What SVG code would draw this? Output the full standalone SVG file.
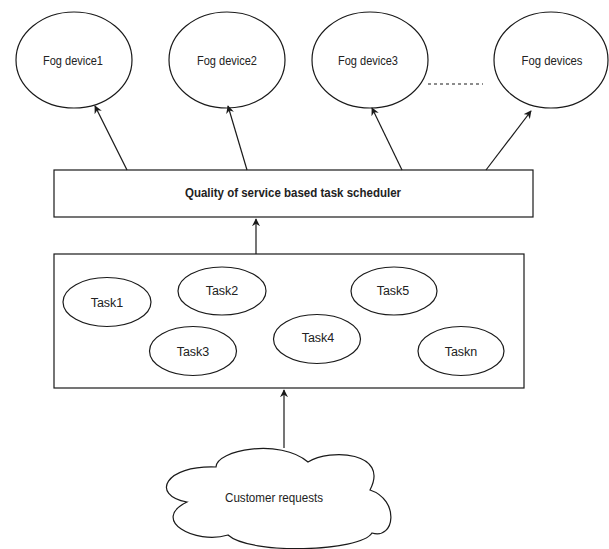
<svg xmlns="http://www.w3.org/2000/svg" width="609" height="549" viewBox="0 0 609 549">
<style>
.shape{fill:#fff;stroke:#1a1a1a;stroke-width:1.2}
.lbl{font-family:"Liberation Sans",Arial,sans-serif;font-size:12.5px;fill:#222;text-anchor:middle}
.big{font-size:13px}
.bold{font-weight:bold;font-size:12.5px}
.edge{fill:none;stroke:#1a1a1a;stroke-width:1.2}
</style>
<defs>
<marker id="arr" viewBox="0 0 10 10" refX="9" refY="5" markerWidth="8" markerHeight="8" markerUnits="userSpaceOnUse" orient="auto">
<path d="M0,0 L10,5 L0,10 L3,5 Z" fill="#1a1a1a"/>
</marker>
</defs>
<rect width="609" height="549" fill="#fff"/>
<g id="fog1"><ellipse class="shape" cx="74" cy="60" rx="58" ry="48"/><text class="lbl big" x="73" y="65" textLength="60" lengthAdjust="spacingAndGlyphs">Fog device1</text></g>
<g id="fog2"><ellipse class="shape" cx="227" cy="60" rx="58" ry="48"/><text class="lbl big" x="227" y="65" textLength="60" lengthAdjust="spacingAndGlyphs">Fog device2</text></g>
<g id="fog3"><ellipse class="shape" cx="370" cy="60" rx="58" ry="48"/><text class="lbl big" x="368" y="65" textLength="60" lengthAdjust="spacingAndGlyphs">Fog device3</text></g>
<g id="fogs"><ellipse class="shape" cx="551" cy="60" rx="57" ry="48"/><text class="lbl big" x="552" y="65" textLength="61" lengthAdjust="spacingAndGlyphs">Fog devices</text></g>
<g id="scheduler"><rect class="shape" x="54" y="170" width="479" height="47"/><text class="lbl bold" x="293" y="197" textLength="216" lengthAdjust="spacingAndGlyphs">Quality of service based task scheduler</text></g>
<g id="tasks"><rect class="shape" x="54" y="254" width="470" height="134"/></g>
<g id="task1"><ellipse class="shape" cx="107" cy="302" rx="44" ry="24.5"/><text class="lbl" x="107" y="307">Task1</text></g>
<g id="task2"><ellipse class="shape" cx="222" cy="291" rx="44" ry="24"/><text class="lbl" x="222" y="295">Task2</text></g>
<g id="task5"><ellipse class="shape" cx="394" cy="291" rx="43" ry="24"/><text class="lbl" x="393" y="295">Task5</text></g>
<g id="task3"><ellipse class="shape" cx="193" cy="351" rx="43.5" ry="24.5"/><text class="lbl" x="193" y="356">Task3</text></g>
<g id="task4"><ellipse class="shape" cx="317" cy="339" rx="43.5" ry="24.5"/><text class="lbl" x="318" y="342">Task4</text></g>
<g id="taskn"><ellipse class="shape" cx="461" cy="351" rx="43" ry="24.5"/><text class="lbl" x="461" y="356">Taskn</text></g>
<g id="customer"><path class="shape" d="M216,467 C216,450 280,438 308,462 C330,448 390,452 370,490 C400,500 395,540 372,533 C360,552 250,555 228,535 C195,545 150,520 187,502 C150,495 165,465 216,467 Z"/><text class="lbl big" x="274" y="502" textLength="98" lengthAdjust="spacingAndGlyphs">Customer requests</text></g>
<g id="connectors">
<path class="edge" d="M127,170 L95,106" marker-end="url(#arr)"/>
<path class="edge" d="M247,170 L228,106" marker-end="url(#arr)"/>
<path class="edge" d="M402,170 L372,108" marker-end="url(#arr)"/>
<path class="edge" d="M486,170 L531,111" marker-end="url(#arr)"/>
<path class="edge" d="M256,254 L256,219" marker-end="url(#arr)"/>
<path class="edge" d="M284,448 L284,390" marker-end="url(#arr)"/>
<path class="edge" d="M428,84 L483,84" stroke-dasharray="3,3"/>
</g>
</svg>
